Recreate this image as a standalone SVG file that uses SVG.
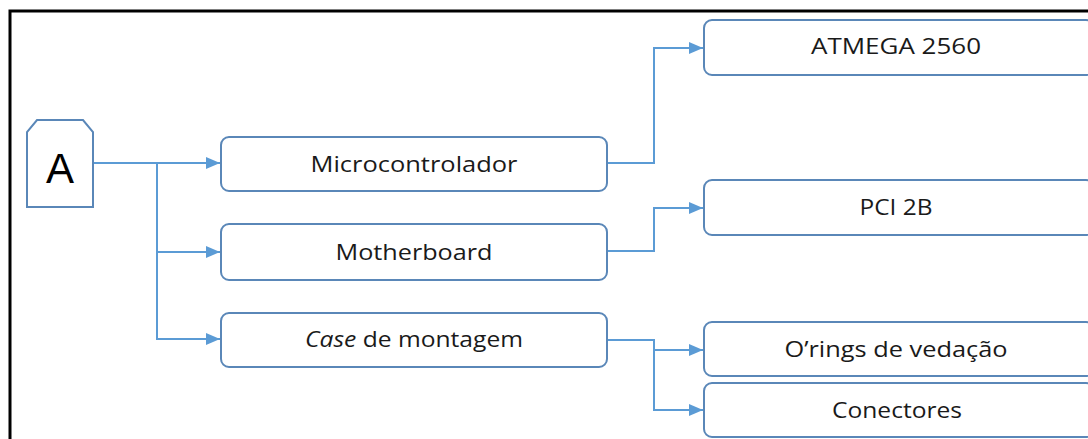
<svg xmlns="http://www.w3.org/2000/svg" width="1088" height="439" viewBox="0 0 1088 439">
<style>
.box{fill:#fff;stroke:#5a87b8;stroke-width:2}
.lbl{font-family:"Open Sans","Liberation Sans",sans-serif;font-size:22px;fill:#1a1a1a;text-anchor:middle}
.con{fill:none;stroke:#5b9bd5;stroke-width:2}
</style>
<defs>
<marker id="arr" viewBox="0 0 14 14" refX="14" refY="7" markerWidth="14" markerHeight="14" markerUnits="userSpaceOnUse" orient="auto">
<path d="M0,1 L14,7 L0,13 z" fill="#5b9bd5"/>
</marker>
</defs>
<rect width="1088" height="439" fill="#fff"/>
<rect x="10" y="11" width="1100" height="450" fill="none" stroke="#000" stroke-width="3"/>
<g id="connectors">
<path class="con" d="M93,163 H220" marker-end="url(#arr)"/>
<path class="con" d="M157,163 V339 H220" marker-end="url(#arr)"/>
<path class="con" d="M157,252 H220" marker-end="url(#arr)"/>
<path class="con" d="M607,163 H654 V48 H703" marker-end="url(#arr)"/>
<path class="con" d="M607,251 H654 V208 H703" marker-end="url(#arr)"/>
<path class="con" d="M607,340 H654 V350 H703" marker-end="url(#arr)"/>
<path class="con" d="M654,350 V410 H703" marker-end="url(#arr)"/>
</g>
<g id="node-a">
<path class="box" d="M37,120 H83 L93,132 V207 H27 V132 Z"/>
<text x="60" y="183" font-family="'Liberation Sans',sans-serif" font-size="42" text-anchor="middle" fill="#000">A</text>
</g>
<g id="node-micro">
<rect class="box" x="221" y="137" width="386" height="54" rx="8"/>
<text class="lbl" x="414" y="172" textLength="207" lengthAdjust="spacingAndGlyphs">Microcontrolador</text>
</g>
<g id="node-mother">
<rect class="box" x="221" y="224" width="386" height="56" rx="8"/>
<text class="lbl" x="414" y="260" textLength="157" lengthAdjust="spacingAndGlyphs">Motherboard</text>
</g>
<g id="node-case">
<rect class="box" x="221" y="313" width="386" height="54" rx="8"/>
<text class="lbl" x="414" y="347" textLength="218" lengthAdjust="spacingAndGlyphs"><tspan font-style="italic">Case</tspan> de montagem</text>
</g>
<g id="node-atmega">
<rect class="box" x="704" y="20" width="390" height="55" rx="8"/>
<text class="lbl" x="896" y="54" textLength="170" lengthAdjust="spacingAndGlyphs">ATMEGA  2560</text>
</g>
<g id="node-pci">
<rect class="box" x="704" y="180" width="390" height="55" rx="8"/>
<text class="lbl" x="896" y="215" textLength="73" lengthAdjust="spacingAndGlyphs">PCI 2B</text>
</g>
<g id="node-orings">
<rect class="box" x="704" y="322" width="390" height="54" rx="8"/>
<text class="lbl" x="896" y="357" textLength="223" lengthAdjust="spacingAndGlyphs">O’rings de vedação</text>
</g>
<g id="node-conectores">
<rect class="box" x="704" y="383" width="390" height="54" rx="8"/>
<text class="lbl" x="897" y="418" textLength="130" lengthAdjust="spacingAndGlyphs">Conectores</text>
</g>
</svg>
